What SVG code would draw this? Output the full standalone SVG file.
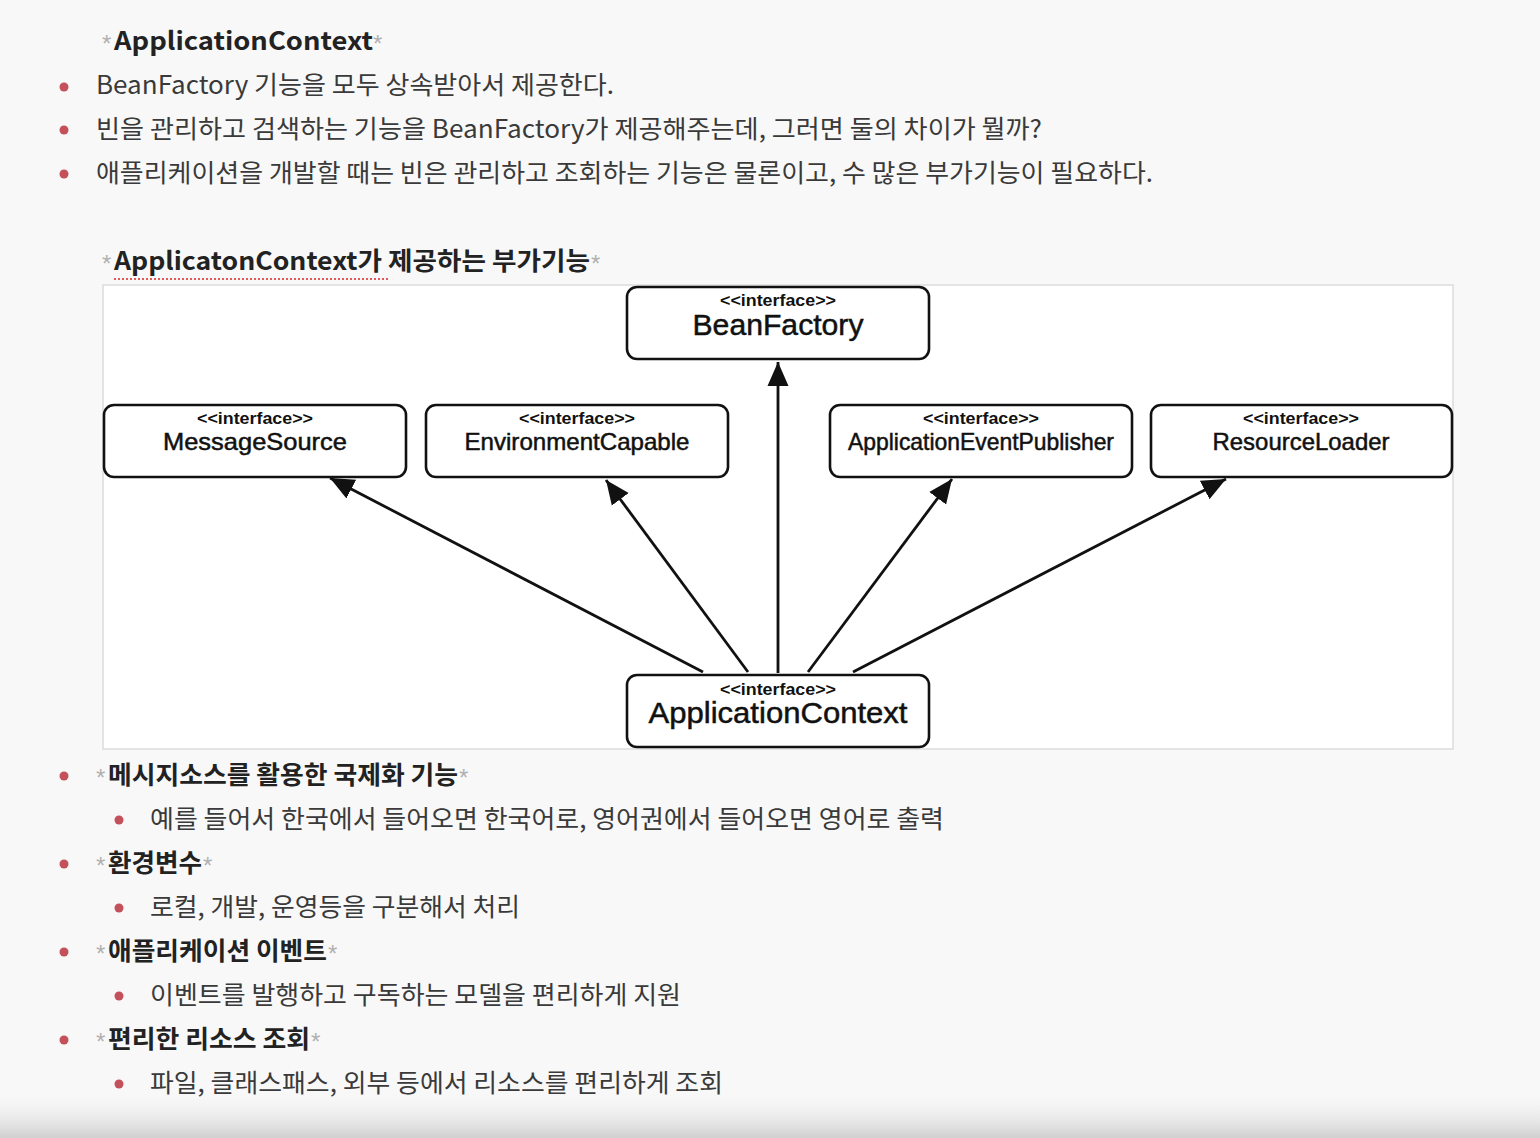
<svg xmlns="http://www.w3.org/2000/svg" width="1540" height="1138" viewBox="0 0 1540 1138">
<defs>
<linearGradient id="fade" x1="0" y1="0" x2="0" y2="1">
<stop offset="0" stop-color="#f7f7f7" stop-opacity="0"/>
<stop offset="1" stop-color="#cfcfcf"/>
</linearGradient>
<marker id="arr" markerUnits="userSpaceOnUse" markerWidth="26" markerHeight="24" refX="24" refY="12" orient="auto">
<path d="M0,1.5 L24,12 L0,22.5 Z" fill="#111"/>
</marker>
<style>
.kr{font-family:"Noto Sans CJK KR","Noto Sans",sans-serif;font-size:25px;fill:#3a3a3a;}
.krb{font-family:"Noto Sans CJK KR","Noto Sans",sans-serif;font-size:25px;font-weight:bold;fill:#222;}
.ast{font-family:"Liberation Sans",sans-serif;font-size:24px;fill:#b0b0b0;}
.dot{fill:#c4505a;}
.box{fill:#fff;stroke:#111;stroke-width:2.6;}
.st{font-family:"Liberation Sans",Arial,sans-serif;font-size:16px;font-weight:bold;fill:#111;text-anchor:middle;}
.nm{font-family:"Liberation Sans",Arial,sans-serif;font-size:24px;fill:#111;stroke:#111;stroke-width:0.5;text-anchor:middle;}
.nmL{font-family:"Liberation Sans",Arial,sans-serif;font-size:30px;fill:#111;stroke:#111;stroke-width:0.5;text-anchor:middle;}
.con{stroke:#111;stroke-width:2.8;fill:none;marker-end:url(#arr);}
</style>
</defs>
<rect x="0" y="0" width="1540" height="1138" fill="#f8f8f8"/>
<rect x="0" y="1090" width="1540" height="48" fill="url(#fade)"/>

<!-- top text -->
<text class="ast" x="102" y="52">*</text>
<text class="krb" x="114" y="50" textLength="259" lengthAdjust="spacingAndGlyphs">ApplicationContext</text>
<text class="ast" x="373" y="52">*</text>

<circle class="dot" cx="64" cy="87" r="4.5"/>
<text class="kr" x="96" y="94" textLength="518" lengthAdjust="spacingAndGlyphs">BeanFactory 기능을 모두 상속받아서 제공한다.</text>
<circle class="dot" cx="64" cy="130" r="4.5"/>
<text class="kr" x="96" y="138" textLength="946" lengthAdjust="spacingAndGlyphs">빈을 관리하고 검색하는 기능을 BeanFactory가 제공해주는데, 그러면 둘의 차이가 뭘까?</text>
<circle class="dot" cx="64" cy="174" r="4.5"/>
<text class="kr" x="96" y="182" textLength="1057" lengthAdjust="spacingAndGlyphs">애플리케이션을 개발할 때는 빈은 관리하고 조회하는 기능은 물론이고, 수 많은 부가기능이 필요하다.</text>

<text class="ast" x="102" y="272">*</text>
<text class="krb" x="114" y="270" textLength="476" lengthAdjust="spacingAndGlyphs">ApplicatonContext가 제공하는 부가기능</text>
<text class="ast" x="591" y="272">*</text>
<line x1="114" y1="279" x2="388" y2="279" stroke="#e05a5a" stroke-width="2" stroke-dasharray="2,2"/>

<!-- diagram frame -->
<rect x="103" y="285" width="1350" height="464" fill="#fff" stroke="#dcdcdc" stroke-width="1.5"/>

<g id="connectors">
<line class="con" x1="703" y1="672" x2="330" y2="478"/>
<line class="con" x1="748" y1="672" x2="606" y2="480"/>
<line class="con" x1="778" y1="673" x2="778" y2="362"/>
<line class="con" x1="808" y1="672" x2="952" y2="479"/>
<line class="con" x1="853" y1="672" x2="1226" y2="479"/>
</g>

<g id="BeanFactory">
<rect class="box" x="627" y="287" width="302" height="72" rx="10"/>
<text class="st" x="778" y="306" textLength="116" lengthAdjust="spacingAndGlyphs">&lt;&lt;interface&gt;&gt;</text>
<text class="nmL" x="778" y="335" textLength="171" lengthAdjust="spacingAndGlyphs">BeanFactory</text>
</g>
<g id="MessageSource">
<rect class="box" x="104" y="405" width="302" height="72" rx="10"/>
<text class="st" x="255" y="424" textLength="116" lengthAdjust="spacingAndGlyphs">&lt;&lt;interface&gt;&gt;</text>
<text class="nm" x="255" y="450" textLength="184" lengthAdjust="spacingAndGlyphs">MessageSource</text>
</g>
<g id="EnvironmentCapable">
<rect class="box" x="426" y="405" width="302" height="72" rx="10"/>
<text class="st" x="577" y="424" textLength="116" lengthAdjust="spacingAndGlyphs">&lt;&lt;interface&gt;&gt;</text>
<text class="nm" x="577" y="450" textLength="225" lengthAdjust="spacingAndGlyphs">EnvironmentCapable</text>
</g>
<g id="ApplicationEventPublisher">
<rect class="box" x="830" y="405" width="302" height="72" rx="10"/>
<text class="st" x="981" y="424" textLength="116" lengthAdjust="spacingAndGlyphs">&lt;&lt;interface&gt;&gt;</text>
<text class="nm" x="981" y="450" textLength="266" lengthAdjust="spacingAndGlyphs">ApplicationEventPublisher</text>
</g>
<g id="ResourceLoader">
<rect class="box" x="1151" y="405" width="301" height="72" rx="10"/>
<text class="st" x="1301" y="424" textLength="116" lengthAdjust="spacingAndGlyphs">&lt;&lt;interface&gt;&gt;</text>
<text class="nm" x="1301" y="450" textLength="177" lengthAdjust="spacingAndGlyphs">ResourceLoader</text>
</g>
<g id="ApplicationContext">
<rect class="box" x="627" y="675" width="302" height="72" rx="10"/>
<text class="st" x="778" y="695" textLength="116" lengthAdjust="spacingAndGlyphs">&lt;&lt;interface&gt;&gt;</text>
<text class="nmL" x="778" y="723" textLength="259" lengthAdjust="spacingAndGlyphs">ApplicationContext</text>
</g>

<!-- bottom list -->
<circle class="dot" cx="64" cy="776" r="4.5"/>
<text class="ast" x="96" y="786">*</text>
<text class="krb" x="108" y="784" textLength="350" lengthAdjust="spacingAndGlyphs">메시지소스를 활용한 국제화 기능</text>
<text class="ast" x="459" y="786">*</text>
<circle class="dot" cx="119" cy="820" r="4.5"/>
<text class="kr" x="150" y="828" textLength="794" lengthAdjust="spacingAndGlyphs">예를 들어서 한국에서 들어오면 한국어로, 영어권에서 들어오면 영어로 출력</text>

<circle class="dot" cx="64" cy="864" r="4.5"/>
<text class="ast" x="96" y="874">*</text>
<text class="krb" x="108" y="872" textLength="94" lengthAdjust="spacingAndGlyphs">환경변수</text>
<text class="ast" x="203" y="874">*</text>
<circle class="dot" cx="119" cy="908" r="4.5"/>
<text class="kr" x="150" y="916" textLength="370" lengthAdjust="spacingAndGlyphs">로컬, 개발, 운영등을 구분해서 처리</text>

<circle class="dot" cx="64" cy="952" r="4.5"/>
<text class="ast" x="96" y="962">*</text>
<text class="krb" x="108" y="960" textLength="219" lengthAdjust="spacingAndGlyphs">애플리케이션 이벤트</text>
<text class="ast" x="328" y="962">*</text>
<circle class="dot" cx="119" cy="996" r="4.5"/>
<text class="kr" x="150" y="1004" textLength="531" lengthAdjust="spacingAndGlyphs">이벤트를 발행하고 구독하는 모델을 편리하게 지원</text>

<circle class="dot" cx="64" cy="1040" r="4.5"/>
<text class="ast" x="96" y="1050">*</text>
<text class="krb" x="108" y="1048" textLength="202" lengthAdjust="spacingAndGlyphs">편리한 리소스 조회</text>
<text class="ast" x="311" y="1050">*</text>
<circle class="dot" cx="119" cy="1084" r="4.5"/>
<text class="kr" x="150" y="1092" textLength="573" lengthAdjust="spacingAndGlyphs">파일, 클래스패스, 외부 등에서 리소스를 편리하게 조회</text>
</svg>
